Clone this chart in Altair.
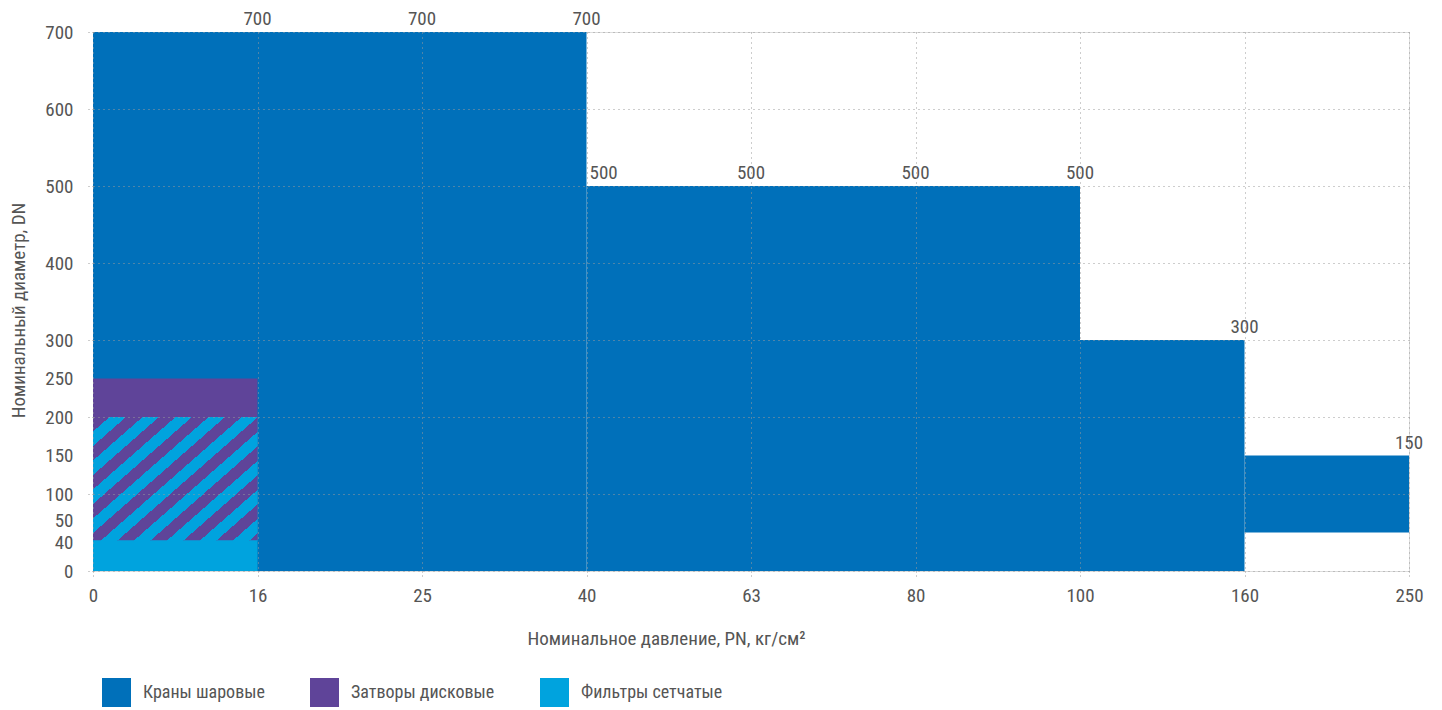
import math
import altair as alt
import pandas as pd

# ---------------- data ----------------
pn_ticks = [0, 16, 25, 40, 63, 80, 100, 160, 250]
dn_ticks = [0, 40, 50, 100, 150, 200, 250, 300, 400, 500, 600, 700]

series_names = ["Краны шаровые", "Затворы дисковые", "Фильтры сетчатые"]
series_colors = ["#0070BA", "#5F4499", "#00A3DE"]

bar_type = ["Краны шаровые", "Краны шаровые", "Краны шаровые", "Краны шаровые",
            "Затворы дисковые", "Фильтры сетчатые"]
bar_pn_from = [0, 40, 100, 160, 0, 0]
bar_pn_to = [40, 100, 160, 250, 16, 16]
bar_dn_from = [0, 0, 0, 50, 40, 0]
bar_dn_to = [700, 500, 300, 150, 250, 200]

label_pn = [16, 25, 40, 40, 63, 80, 100, 160, 250]
label_dn = [700, 700, 700, 500, 500, 500, 500, 300, 150]

# ---------------- tables ----------------
bars = pd.DataFrame({
    "type": bar_type,
    "x0": [pn_ticks.index(v) for v in bar_pn_from],
    "x1": [pn_ticks.index(v) for v in bar_pn_to],
    "y0": bar_dn_from,
    "y1": bar_dn_to,
})

# overlap of the two small series -> hatched region
a = bars[bars["type"] == series_names[1]].iloc[0]
b = bars[bars["type"] == series_names[2]].iloc[0]
hatch = pd.DataFrame({
    "x0": [max(a.x0, b.x0)], "x1": [min(a.x1, b.x1)],
    "y0": [max(a.y0, b.y0)], "y1": [min(a.y1, b.y1)],
})

labels = pd.DataFrame({
    "xi": [pn_ticks.index(v) for v in label_pn],
    "dn": label_dn,
})
labels["dup"] = labels.duplicated("xi")

# ---------------- layout / style ----------------
W, H = 1316, 539
FONT = "'Liberation Sans Narrow', 'Roboto Condensed', 'DejaVu Sans Condensed', Roboto, sans-serif"
TXT = "#555555"
GRID = "#9a9a9a"
FS = 19

# stripe gradient for hatched rect (bbox units)
hw = W / (len(pn_ticks) - 1) * (hatch.x1[0] - hatch.x0[0])
hh = H / 700 * (hatch.y1[0] - hatch.y0[0])
Px, Py = 33.0, 29.0
a1, a2 = hw / Px, hh / Py
N = a1 + a2
t = N / (a1 * a1 + a2 * a2)
period = 1.0 / N
stops = []
k = 0
while k * period < 1.0:
    s = k * period
    m = min(1.0, s + period / 2)
    e = min(1.0, s + period)
    stops += [
        {"offset": s, "color": series_colors[1]},
        {"offset": m, "color": series_colors[1]},
        {"offset": m, "color": series_colors[2]},
        {"offset": e, "color": series_colors[2]},
    ]
    k += 1
gradient = {"gradient": "linear", "x1": 0, "y1": 0, "x2": a1 * t, "y2": a2 * t, "stops": stops}

label_expr = "[" + ",".join("'%s'" % v for v in pn_ticks) + "][datum.value]"

xscale = alt.Scale(domain=[0, len(pn_ticks) - 1], nice=False, zero=False)
yscale = alt.Scale(domain=[0, 700], nice=False)

xaxis = alt.Axis(
    values=list(range(len(pn_ticks))), labelExpr=label_expr, labelFlush=False,
    labelOverlap=False,
    grid=True, gridDash=[1, 4], gridColor=GRID, gridWidth=1,
    domain=False, ticks=True, tickDash=[1, 3], tickSize=8, tickColor=GRID,
    labelPadding=7, labelFontSize=FS, labelColor=TXT, labelFont=FONT,
    title="Номинальное давление, PN, кг/см²", titleX=573, titleY=67,
    titleBaseline="middle", titleAlign="center", titleFontWeight="normal",
    titleFontSize=FS, titleColor=TXT, titleFont=FONT, zindex=1,
)

cond100 = {"condition": {"test": "datum.value % 100 === 0", "value": 1}, "value": 0}
yaxis = alt.Axis(
    values=dn_ticks, grid=True, gridDash=[1, 4], gridColor=GRID, gridWidth=1,
    gridOpacity=cond100, tickOpacity=cond100, labelFlush=False, labelOverlap=False,
    domain=False, ticks=True, tickDash=[1, 3], tickSize=5, tickColor=GRID,
    labelPadding=15, labelFontSize=FS, labelColor=TXT, labelFont=FONT,
    labelOffset={"condition": [
        {"test": "datum.value === 50", "value": -12},
        {"test": "datum.value === 40", "value": 2},
    ], "value": 0},
    title="Номинальный диаметр, DN", titleX=-75, titleY=278, titleAngle=270,
    titleBaseline="middle", titleAlign="center", titleFontWeight="normal",
    titleFontSize=FS, titleColor=TXT, titleFont=FONT, zindex=1,
)

base_x = alt.X("x0:Q", scale=xscale, axis=xaxis)
base_y = alt.Y("y0:Q", scale=yscale, axis=yaxis)

rects = alt.Chart(bars).mark_rect().encode(
    x=base_x, x2="x1:Q", y=base_y, y2="y1:Q",
    color=alt.Color(
        "type:N",
        scale=alt.Scale(domain=series_names, range=series_colors),
        legend=alt.Legend(
            title=None, orient="none", legendX=9, legendY=646,
            direction="horizontal", symbolType="square", symbolSize=841,
            symbolStrokeWidth=0, symbolOpacity=1, labelFontSize=18,
            labelColor=TXT, labelFont=FONT, labelOffset=12, columnPadding=45,
            labelLimit=300,
        ),
    ),
)

hatched = alt.Chart(hatch).mark_rect(fill=gradient).encode(
    x=alt.X("x0:Q", scale=xscale), x2="x1:Q",
    y=alt.Y("y0:Q", scale=yscale), y2="y1:Q",
)

text_main = alt.Chart(labels).transform_filter("!datum.dup").mark_text(
    align="center", baseline="alphabetic", dy=-7, fontSize=FS, color=TXT, font=FONT,
).encode(x=alt.X("xi:Q", scale=xscale), y=alt.Y("dn:Q", scale=yscale), text="dn:Q")

text_side = alt.Chart(labels).transform_filter("datum.dup").mark_text(
    align="left", baseline="alphabetic", dy=-7, dx=3, fontSize=FS, color=TXT, font=FONT,
).encode(x=alt.X("xi:Q", scale=xscale), y=alt.Y("dn:Q", scale=yscale), text="dn:Q")

chart = alt.layer(rects, hatched, text_main, text_side).properties(
    width=W, height=H,
    autosize=alt.AutoSizeParams(type="none"),
    padding={"left": 85, "top": 24, "right": 25, "bottom": 140},
).configure_view(stroke=None).configure(font=FONT)

chart.save("out.html", embed_options={"renderer": "svg", "actions": False})
